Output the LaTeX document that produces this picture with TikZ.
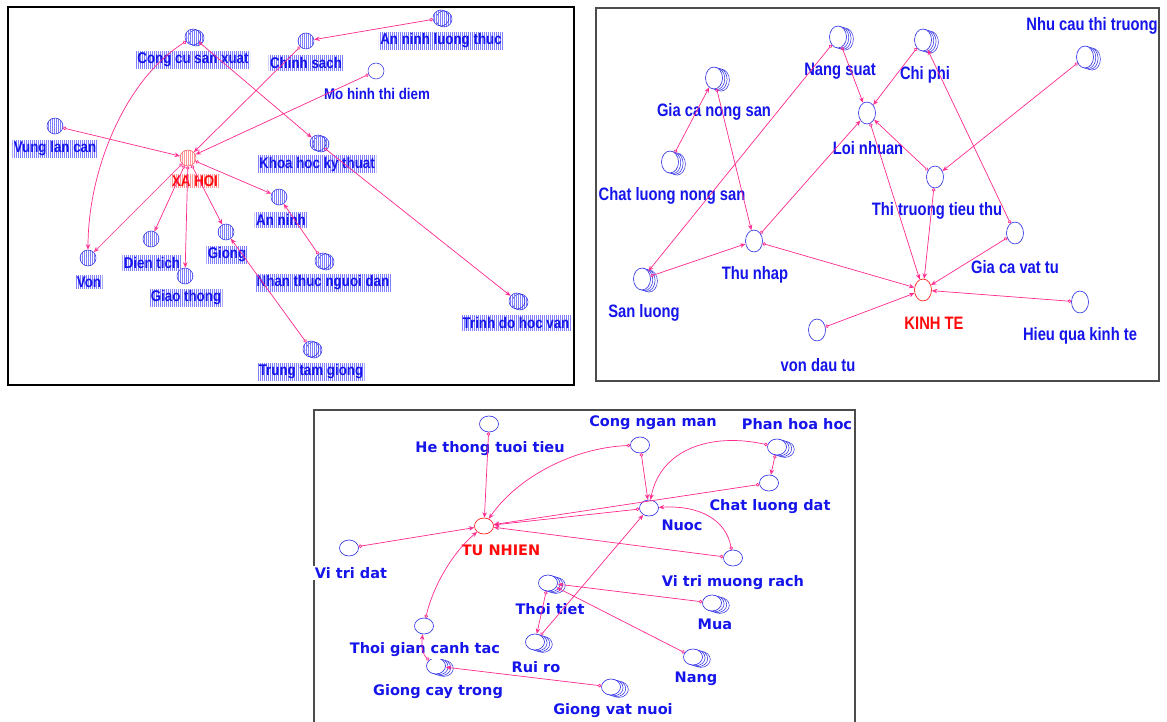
\documentclass[tikz,border=0pt]{standalone}
\usepackage{fontspec}
\setmainfont{Liberation Sans}
\newfontfamily\fontA[FakeStretch=0.86]{Liberation Sans}
\newfontfamily\fontB[FakeStretch=0.82]{Liberation Sans}
\newfontfamily\fontC{DejaVu Sans}
\usetikzlibrary{arrows.meta,shapes.geometric,patterns.meta}
\definecolor{linkc}{RGB}{255,40,140}
\definecolor{txtb}{RGB}{20,20,235}
\definecolor{ringc}{RGB}{40,40,230}
\definecolor{redc}{RGB}{255,10,10}
\newcommand\ringsB[2]{\foreach \d in {3,2,1}{\draw[ringc,line width=0.5pt,fill=white] ({#1+2.3*\d},{#2+0.7*\d}) ellipse [x radius=8.5pt, y radius=11pt];}}
\newcommand\ringsC[2]{\foreach \d in {3,2,1}{\draw[ringc,line width=0.5pt,fill=white] ({#1+2.6*\d},{#2+0.8*\d}) ellipse [x radius=9.5pt, y radius=8pt];}}
\newcommand\ringsA[2]{\draw[ringc,line width=0.5pt,fill=white,pattern={Lines[angle=90,distance=2pt,line width=0.6pt]},pattern color=blue!50] ({#1+3},{#2+1}) circle [radius=8pt];}
\tikzset{
 hatchb/.style={pattern={Lines[angle=90,distance=2pt,line width=0.6pt]}, pattern color=blue!50},
 hatchr/.style={pattern={Lines[angle=90,distance=2pt,line width=0.6pt]}, pattern color=red!40},
 vA/.style={circle, minimum size=16pt, inner sep=0pt, draw=ringc, line width=0.5pt, hatchb},
 vAplain/.style={circle, minimum size=16pt, inner sep=0pt, draw=ringc, line width=0.5pt, fill=white},
 vAred/.style={circle, minimum size=16pt, inner sep=0pt, draw=redc!70, line width=0.5pt, hatchr},
 fA/.style={font={\fontA\bfseries\fontsize{15.5}{17}\selectfont}},
 lA/.style={fA, text=txtb, inner sep=1.5pt, hatchb},
 lAplain/.style={fA, text=txtb, inner sep=1.5pt},
 lAred/.style={fA, text=redc, inner sep=1.5pt, hatchr},
 vB/.style={ellipse, minimum width=17pt, minimum height=22pt, inner sep=0pt, draw=ringc, fill=white, line width=0.6pt},
 vBred/.style={vB, draw=redc},
 lB/.style={font={\fontB\bfseries\fontsize{18}{20}\selectfont}, text=txtb, inner sep=1pt},
 lBred/.style={lB, text=redc},
 vC/.style={ellipse, minimum width=19pt, minimum height=16pt, inner sep=0pt, draw=ringc, fill=white, line width=0.6pt},
 vCred/.style={vC, draw=redc},
 lC/.style={font={\fontC\bfseries\fontsize{14.5}{16}\selectfont}, text=txtb, inner sep=1.5pt, fill=white},
 lCred/.style={lC, text=redc},
 link/.style={draw=linkc, line width=0.7pt, {Circle[open,length=3.5pt,width=3.5pt]}-{Stealth[open,length=5.5pt,width=4.5pt]}},
}
\begin{document}
\begin{tikzpicture}[x=1pt,y=-1pt]
\useasboundingbox (0,0) rectangle (1167,722);
% frames
\draw[line width=2pt,black] (8,7) rectangle (574,385);
\draw[line width=1.2pt,black!70] (596,8) rectangle (1159,381);
\draw[line width=1.2pt,black!70] (314,722) -- (314,410) -- (855,410) -- (855,722);

% ---------- Panel 1: XA HOI ----------
\ringsA{193}{37}
\ringsA{441}{18}
\ringsA{318}{143}
\ringsA{323}{261}
\ringsA{517}{301}
\ringsA{311}{349}
\node[vA] (a1) at (193,37) {};
\node[vA] (a2) at (306,41) {};
\node[vA] (a3) at (441,18) {};
\node[vAplain] (a4) at (376,71) {};
\node[vA] (a5) at (55,126) {};
\node[vAred] (a6) at (188,158) {};
\node[vA] (a7) at (318,143) {};
\node[vA] (a8) at (279,197) {};
\node[vA] (a9) at (151,239) {};
\node[vA] (a10) at (226,232) {};
\node[vA] (a11) at (88,258) {};
\node[vA] (a12) at (185,276) {};
\node[vA] (a13) at (323,261) {};
\node[vA] (a14) at (517,301) {};
\node[vA] (a15) at (311,349) {};
\node[lA] (la1) at (193,60) {Cong cu san xuat};
\node[lA] (la2) at (306,63) {Chinh sach};
\node[lA] (la3) at (441,41) {An ninh luong thuc};
\node[lAplain] (la4) at (377,94) {Mo hinh thi diem};
\node[lA] (la5) at (55,149) {Vung lan can};
\node[lAred] (la6) at (195,181) {XA HOI};
\node[lA] (la7) at (317,164) {Khoa hoc ky thuat};
\node[lA] (la8) at (281,220) {An ninh};
\node[lA] (la9) at (152,263) {Dien tich};
\node[lA] (la10) at (227,255) {Giong};
\node[lA] (la11) at (89,282) {Von};
\node[lA] (la12) at (186,298) {Giao thong};
\node[lA] (la13) at (323,283) {Nhan thuc nguoi dan};
\node[lA] (la14) at (516,323) {Trinh do hoc van};
\node[lA] (la15) at (311,372) {Trung tam giong};
\draw[link] (a1) .. controls (125,80) and (88,170) .. (a11);
\draw[link] (a1) -- (a7);
\draw[link] (a7) -- (a14);
\draw[link] (a2) -- (a6);
\draw[link] (a3) -- (a2);
\draw[link] (a4) -- (a6);
\draw[link] (a5) -- (a6);
\draw[link] (a6) -- (a8);
\draw[link] (a6) -- (a11);
\draw[link] (a6) -- (a9);
\draw[link] (a6) -- (a12);
\draw[link] (a6) -- (a10);
\draw[link] (a13) -- (a8);
\draw[link] (a15) -- (a10);

% ---------- Panel 2: KINH TE ----------
\ringsB{838}{37}
\ringsB{714}{78}
\ringsB{670}{162}
\ringsB{923}{40}
\ringsB{1085}{57}
\ringsB{642}{279}
\node[vB] (b1) at (838,37) {};
\node[vB] (b2) at (714,78) {};
\node[vB] (b3) at (670,162) {};
\node[vB] (b4) at (867,113) {};
\node[vB] (b5) at (923,40) {};
\node[vB] (b6) at (1085,57) {};
\node[vB] (b7) at (935,177) {};
\node[vB] (b8) at (754,241) {};
\node[vB] (b9) at (642,279) {};
\node[vB] (b10) at (817,330) {};
\node[vBred] (b11) at (923,290) {};
\node[vB] (b12) at (1015,233) {};
\node[vB] (b13) at (1080,302) {};
\node[lB] (lb1) at (840,71) {Nang suat};
\node[lB] (lb2) at (714,112) {Gia ca nong san};
\node[lB] (lb3) at (672,196) {Chat luong nong san};
\node[lB] (lb4) at (868,148) {Loi nhuan};
\node[lB] (lb5) at (925,75) {Chi phi};
\node[lB] (lb6) at (1092,26) {Nhu cau thi truong};
\node[lB] (lb7) at (937,211) {Thi truong tieu thu};
\node[lB] (lb8) at (755,275) {Thu nhap};
\node[lB] (lb9) at (644,313) {San luong};
\node[lB] (lb10) at (818,365) {von dau tu};
\node[lBred] (lb11) at (934,323) {KINH TE};
\node[lB] (lb12) at (1015,267) {Gia ca vat tu};
\node[lB] (lb13) at (1080,336) {Hieu qua kinh te};
\draw[link] (b3) -- (b2);
\draw[link] (b2) -- (b8);
\draw[link] (b1) -- (b9);
\draw[link] (b1) -- (b4);
\draw[link] (b9) -- (b8);
\draw[link] (b8) -- (b4);
\draw[link] (b8) -- (b11);
\draw[link] (b5) -- (b4);
\draw[link] (b12) -- (b5);
\draw[link] (b4) -- (b11);
\draw[link] (b7) -- (b4);
\draw[link] (b7) -- (b11);
\draw[link] (b6) -- (b7);
\draw[link] (b12) -- (b11);
\draw[link] (b13) -- (b11);
\draw[link] (b10) -- (b11);

% ---------- Panel 3: TU NHIEN ----------
\ringsC{777}{447}
\ringsC{548}{583}
\ringsC{535}{642}
\ringsC{436}{666}
\ringsC{712}{603}
\ringsC{693}{657}
\ringsC{611}{687}
\node[vC] (c1) at (489,424) {};
\node[vCred] (c2) at (484,526) {};
\node[vC] (c3) at (349,548) {};
\node[vC] (c4) at (640,445) {};
\node[vC] (c5) at (777,447) {};
\node[vC] (c6) at (769,483) {};
\node[vC] (c7) at (649,508) {};
\node[vC] (c8) at (733,558) {};
\node[vC] (c9) at (548,583) {};
\node[vC] (c10) at (535,642) {};
\node[vC] (c11) at (424,626) {};
\node[vC] (c12) at (436,666) {};
\node[vC] (c13) at (712,603) {};
\node[vC] (c14) at (693,657) {};
\node[vC] (c15) at (611,687) {};
\node[lC] (lc1) at (490,449) {He thong tuoi tieu};
\node[lCred] (lc2) at (501,550) {TU NHIEN};
\node[lC] (lc3) at (351,573) {Vi tri dat};
\node[lC] (lc4) at (653,423) {Cong ngan man};
\node[lC] (lc5) at (797,424) {Phan hoa hoc};
\node[lC] (lc6) at (770,507) {Chat luong dat};
\node[lC] (lc7) at (682,525) {Nuoc};
\node[lC] (lc8) at (733,583) {Vi tri muong rach};
\node[lC] (lc9) at (550,609) {Thoi tiet};
\node[lC] (lc10) at (536,667) {Rui ro};
\node[lC] (lc11) at (425,650) {Thoi gian canh tac};
\node[lC] (lc12) at (438,692) {Giong cay trong};
\node[lC] (lc13) at (715,624) {Mua};
\node[lC] (lc14) at (696,679) {Nang};
\node[lC] (lc15) at (613,711) {Giong vat nuoi};
\draw[link] (c1) -- (c2);
\draw[link] (c3) -- (c2);
\draw[link] (c4) .. controls (570,448) and (515,480) .. (c2);
\draw[link] (c4) -- (c7);
\draw[link] (c5) .. controls (710,432) and (660,450) .. (c7);
\draw[link] (c5) -- (c6);
\draw[link] (c6) -- (c2);
\draw[link] (c7) -- (c2);
\draw[link] (c8) .. controls (726,520) and (700,505) .. (c7);
\draw[link] (c8) -- (c2);
\draw[link] (c10) -- (c7);
\draw[link] (c9) -- (c10);
\draw[link] (c13) -- (c9);
\draw[link] (c14) -- (c9);
\draw[link] (c15) -- (c12);
\draw[link] (c12) .. controls (423,655) and (421,646) .. (c11);
\draw[link] (c11) .. controls (432,590) and (450,555) .. (c2);
\end{tikzpicture}
\end{document}
